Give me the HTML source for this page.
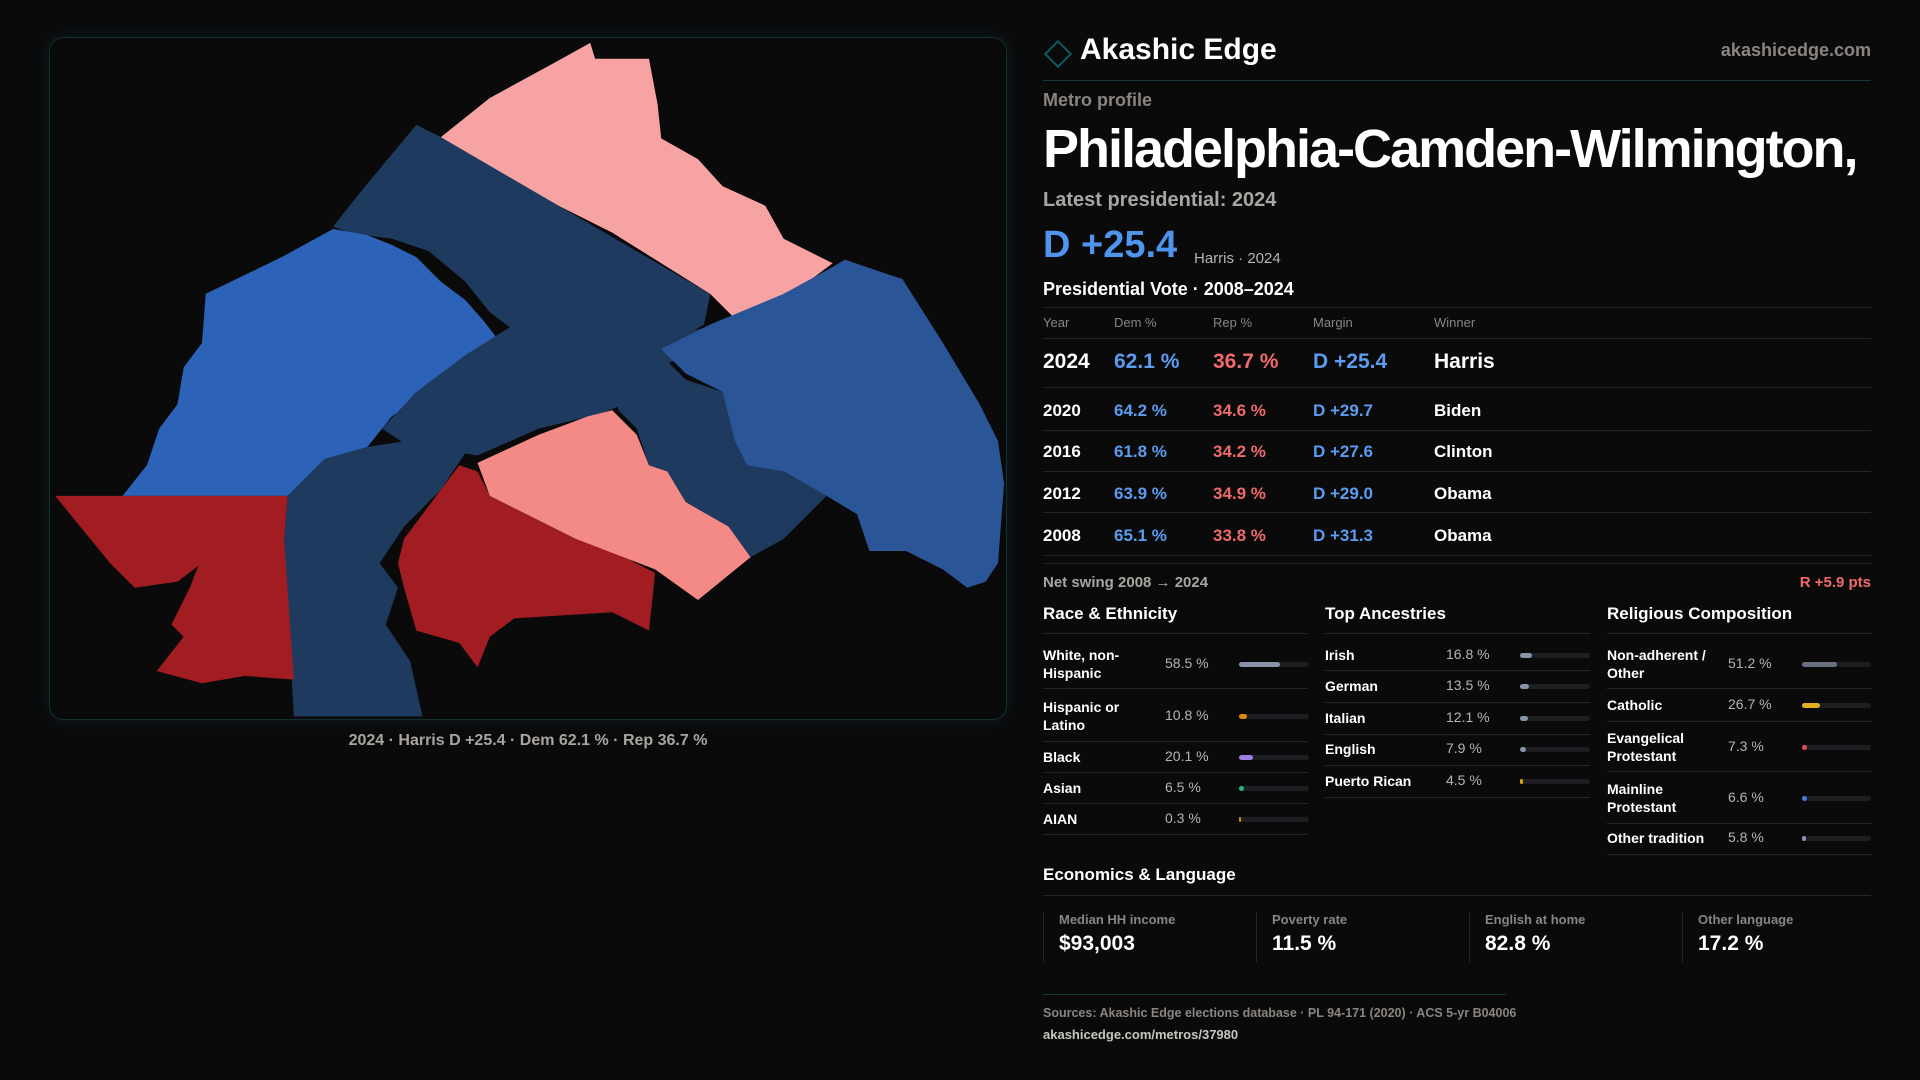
<!DOCTYPE html>
<html><head><meta charset="utf-8"><style>
*{margin:0;padding:0;box-sizing:border-box}
body{width:1920px;height:1080px;background:#0a0a0b;font-family:"Liberation Sans",sans-serif;color:#fff;position:relative;overflow:hidden}
.a{position:absolute;white-space:nowrap}
.g{color:#8a8580}
.line{position:absolute;height:1px;background:#24262a}
.blue{color:#5b9cf0}.red{color:#f06a6a}
.row{position:absolute;left:1043px;width:828px;font-size:17px;font-weight:bold}
.row span{position:absolute;top:0}
.sec{font-size:17px;font-weight:bold}
.lbl{font-size:14px;font-weight:bold;line-height:18px}
.val{font-size:14px;color:#b8b4ae}
.track{position:absolute;height:5px;border-radius:3px;background:#1d1e22}
.fill{position:absolute;left:0;top:0;height:5px;border-radius:3px}
</style></head><body>
<div class="a" style="left:49px;top:37px;width:958px;height:683px;border:1px solid #123236;border-radius:14px;box-shadow:0 0 18px rgba(20,80,90,.25)"></div>
<svg class="a" style="left:0;top:0" width="1920" height="1080" viewBox="0 0 1568 882">
<polygon fill="#1f3a5f" points="420,265 460,245 510,240 550,250 575,265 540,285 500,295 460,300"/>
<polygon fill="#f8a3a3" points="360,112 400,80 455,50 482,35 486,48 530,48 537,85 540,113 570,130 590,152 625,168 640,195 680,215 660,230 640,240 625,265 600,260 580,240 500,190 420,150"/>
<polygon fill="#1f3a5f" points="340,102 360,112 580,240 575,265 540,275 500,290 460,300 445,290 420,270 400,255 380,230 350,205 320,195 285,190 272,185 300,150"/>
<polygon fill="#2c63b8" points="168,240 230,210 272,187 300,192 320,200 340,210 360,230 380,245 395,262 405,275 380,300 350,320 320,340 300,365 265,375 235,405 100,405 120,380 130,350 145,330 150,300 165,280"/>
<polygon fill="#1f3a5f" points="312,350 340,320 380,290 420,265 445,290 460,300 500,295 540,275 575,268 570,290 530,300 510,330 490,338 440,350 390,372 330,362"/>
<polygon fill="#1f3a5f" points="235,405 265,375 300,365 345,358 380,370 360,400 330,430 310,460 325,480 315,510 335,540 345,585 240,585 235,500 232,440"/>
<polygon fill="#a11d22" points="45,405 235,405 232,440 240,555 200,552 165,558 128,548 150,520 140,510 155,480 162,462 145,475 110,480 90,460"/>
<polygon fill="#a11d22" points="330,440 360,400 375,380 390,385 400,405 430,420 450,430 470,440 510,455 535,468 530,515 500,500 420,505 400,520 390,545 375,525 340,515 330,480 325,460"/>
<polygon fill="#f48a86" points="390,378 440,355 480,340 500,335 520,355 530,380 545,385 560,410 595,430 613,455 570,490 535,465 470,440 430,420 400,405"/>
<polygon fill="#1f3a5f" points="500,300 540,290 560,310 590,320 600,360 610,380 640,385 675,405 640,440 613,455 595,430 560,410 545,385 530,380 520,350 505,335"/>
<polygon fill="#2a5596" points="540,285 580,265 640,240 680,218 690,212 737,228 770,280 800,330 815,360 820,395 815,460 805,475 790,480 770,465 740,450 710,450 700,420 675,405 640,385 610,380 600,360 590,320 560,305"/>
</svg>
<div class="a" style="left:528px;top:732px;transform:translateX(-50%);font-size:16px;font-weight:bold;color:#a9a5a0">2024 · Harris D +25.4 · Dem 62.1 % · Rep 36.7 %</div>

<div class="a" style="left:1048px;top:44px;width:20px;height:20px;border:2px solid #0f5a5e;transform:rotate(45deg)"></div>
<div class="a" style="left:1080px;top:33px;font-size:30px;font-weight:bold">Akashic Edge</div>
<div class="a g" style="right:49px;top:40px;font-size:18px;font-weight:bold">akashicedge.com</div>
<div class="line" style="left:1043px;top:80px;width:828px;background:#123a3e"></div>
<div class="a g" style="left:1043px;top:90px;font-size:18px;font-weight:bold">Metro profile</div>
<div class="a" style="left:1043px;top:118px;font-size:54px;font-weight:bold;letter-spacing:-2px">Philadelphia-Camden-Wilmington,</div>
<div class="a g" style="left:1043px;top:189px;font-size:20px;font-weight:bold;color:#a9a5a0">Latest presidential: 2024</div>
<div class="a blue" style="left:1043px;top:224px;font-size:38px;font-weight:bold;color:#4f95ee">D +25.4</div>
<div class="a" style="left:1194px;top:250px;font-size:15px;color:#b8b4ae">Harris · 2024</div>
<div class="a" style="left:1043px;top:279px;font-size:18px;font-weight:bold">Presidential Vote · 2008–2024</div>
<div class="line" style="left:1043px;top:307px;width:828px"></div>
<div class="row g" style="top:315px;font-size:13px;font-weight:normal"><span style="left:0">Year</span><span style="left:71px">Dem %</span><span style="left:170px">Rep %</span><span style="left:270px">Margin</span><span style="left:391px">Winner</span></div>
<div class="line" style="left:1043px;top:338px;width:828px"></div>
<div id="rows"></div>
<div class="line" style="left:1043px;top:563px;width:828px"></div>
<div class="a" style="left:1043px;top:574px;font-size:15px;font-weight:bold;color:#a9a5a0">Net swing 2008 → 2024</div>
<div class="a red" style="right:49px;top:574px;font-size:15px;font-weight:bold">R +5.9 pts</div>

<div class="a sec" style="left:1043px;top:604px">Race &amp; Ethnicity</div>
<div class="a sec" style="left:1325px;top:604px">Top Ancestries</div>
<div class="a sec" style="left:1607px;top:604px">Religious Composition</div>
<div id="cols"></div>

<div class="a sec" style="left:1043px;top:865px">Economics &amp; Language</div>
<div class="line" style="left:1043px;top:895px;width:828px"></div>
<div id="econ"></div>
<div class="line" style="left:1043px;top:994px;width:463px;background:#123a3e"></div>
<div class="a g" style="left:1043px;top:1006px;font-size:12.5px;font-weight:bold">Sources: Akashic Edge elections database · PL 94-171 (2020) · ACS 5-yr B04006</div>
<div class="a" style="left:1043px;top:1027px;font-size:13px;font-weight:bold;color:#c8c4be">akashicedge.com/metros/37980</div>

<script>
const years=["2024","2020","2016","2012","2008"];
const demPct=[62.1,64.2,61.8,63.9,65.1];
const repPct=[36.7,34.6,34.2,34.9,33.8];
const margins=[25.4,29.7,27.6,29.0,31.3];
const winners=["Harris","Biden","Clinton","Obama","Obama"];
const raceLabels=["White, non-<br>Hispanic","Hispanic or<br>Latino","Black","Asian","AIAN"];
const raceValues=[58.5,10.8,20.1,6.5,0.3];
const raceColors=["#8893a8","#e08a10","#9a7ee0","#1fb58a","#e08a10"];
const ancLabels=["Irish","German","Italian","English","Puerto Rican"];
const ancValues=[16.8,13.5,12.1,7.9,4.5];
const ancColors=["#8893a8","#8893a8","#8893a8","#8893a8","#e0a010"];
const relLabels=["Non-adherent /<br>Other","Catholic","Evangelical<br>Protestant","Mainline<br>Protestant","Other tradition"];
const relValues=[51.2,26.7,7.3,6.6,5.8];
const relColors=["#6b7080","#e0b020","#e05050","#3b82e0","#8893a8"];
const econLabels=["Median HH income","Poverty rate","English at home","Other language"];
const econValues=["$93,003","11.5 %","82.8 %","17.2 %"];

const rowsEl=document.getElementById('rows');
const rowTops=[350,401,442,484,526];
const rowLines=[387,430,471,512,555];
years.forEach((y,i)=>{
  const r=document.createElement('div');
  r.className='row';
  
  
  r.style.top=rowTops[i]+'px';
  if(i===0)r.style.fontSize='21px';
  r.innerHTML=`<span style="left:0">${y}</span><span class="blue" style="left:71px">${demPct[i].toFixed(1)} %</span><span class="red" style="left:170px">${repPct[i].toFixed(1)} %</span><span class="blue" style="left:270px">D +${margins[i].toFixed(1)}</span><span style="left:391px">${winners[i]}</span>`;
  rowsEl.appendChild(r);
  const l=document.createElement('div');l.className='line';
  l.style.cssText=`left:1043px;top:${rowLines[i]}px;width:828px`;
  rowsEl.appendChild(l);
});

const cols=document.getElementById('cols');
function column(name,x,labels,values,colors,centers,seps,valX,barX,barW){
  labels.forEach((lab,i)=>{
    const L=document.createElement('div');L.className='a lbl';
    
    
    const two=lab.includes('<br>');
    L.style.left=x+'px';L.style.top=(centers[i]-(two?18:9))+'px';L.innerHTML=lab;cols.appendChild(L);
    const V=document.createElement('div');V.className='a val';
    
    
    V.style.left=valX+'px';V.style.top=(centers[i]-9)+'px';V.textContent=values[i].toFixed(1)+' %';cols.appendChild(V);
    const T=document.createElement('div');T.className='track';
    
    
    T.style.left=barX+'px';T.style.top=(centers[i]-2)+'px';T.style.width=barW+'px';
    const F=document.createElement('div');F.className='fill';
    F.style.width=Math.max(2,values[i]/100*barW)+'px';F.style.background=colors[i];
    T.appendChild(F);cols.appendChild(T);
    const S=document.createElement('div');S.className='line';
    S.style.cssText=`left:${x}px;top:${seps[i]}px;width:265px`;cols.appendChild(S);
  });
  const S=document.createElement('div');S.className='line';
  S.style.cssText=`left:${x}px;top:633px;width:265px`;cols.appendChild(S);
}
column('race',1043,raceLabels,raceValues,raceColors,[664,716,757,788,819],[688,741,772,803,834],1165,1239,70);
column('ancestry',1325,ancLabels,ancValues,ancColors,[655,686,718,749,781],[670,702,734,765,797],1446,1520,70);
column('religion',1607,relLabels,relValues,relColors,[664,705,747,798,838],[688,721,771,823,854],1728,1802,69);

const econ=document.getElementById('econ');
econLabels.forEach((lab,i)=>{
  const b=document.createElement('div');b.className='a';
  
  
  b.style.cssText=`left:${1043+i*213}px;top:912px;width:213px;height:50px;border-left:1px solid #24262a;padding-left:15px`;
  b.innerHTML=`<div style="font-size:13px;font-weight:bold;color:#8a8580">${lab}</div><div style="font-size:21px;font-weight:bold;margin-top:5px">${econValues[i]}</div>`;
  econ.appendChild(b);
});
</script>
</body></html>
